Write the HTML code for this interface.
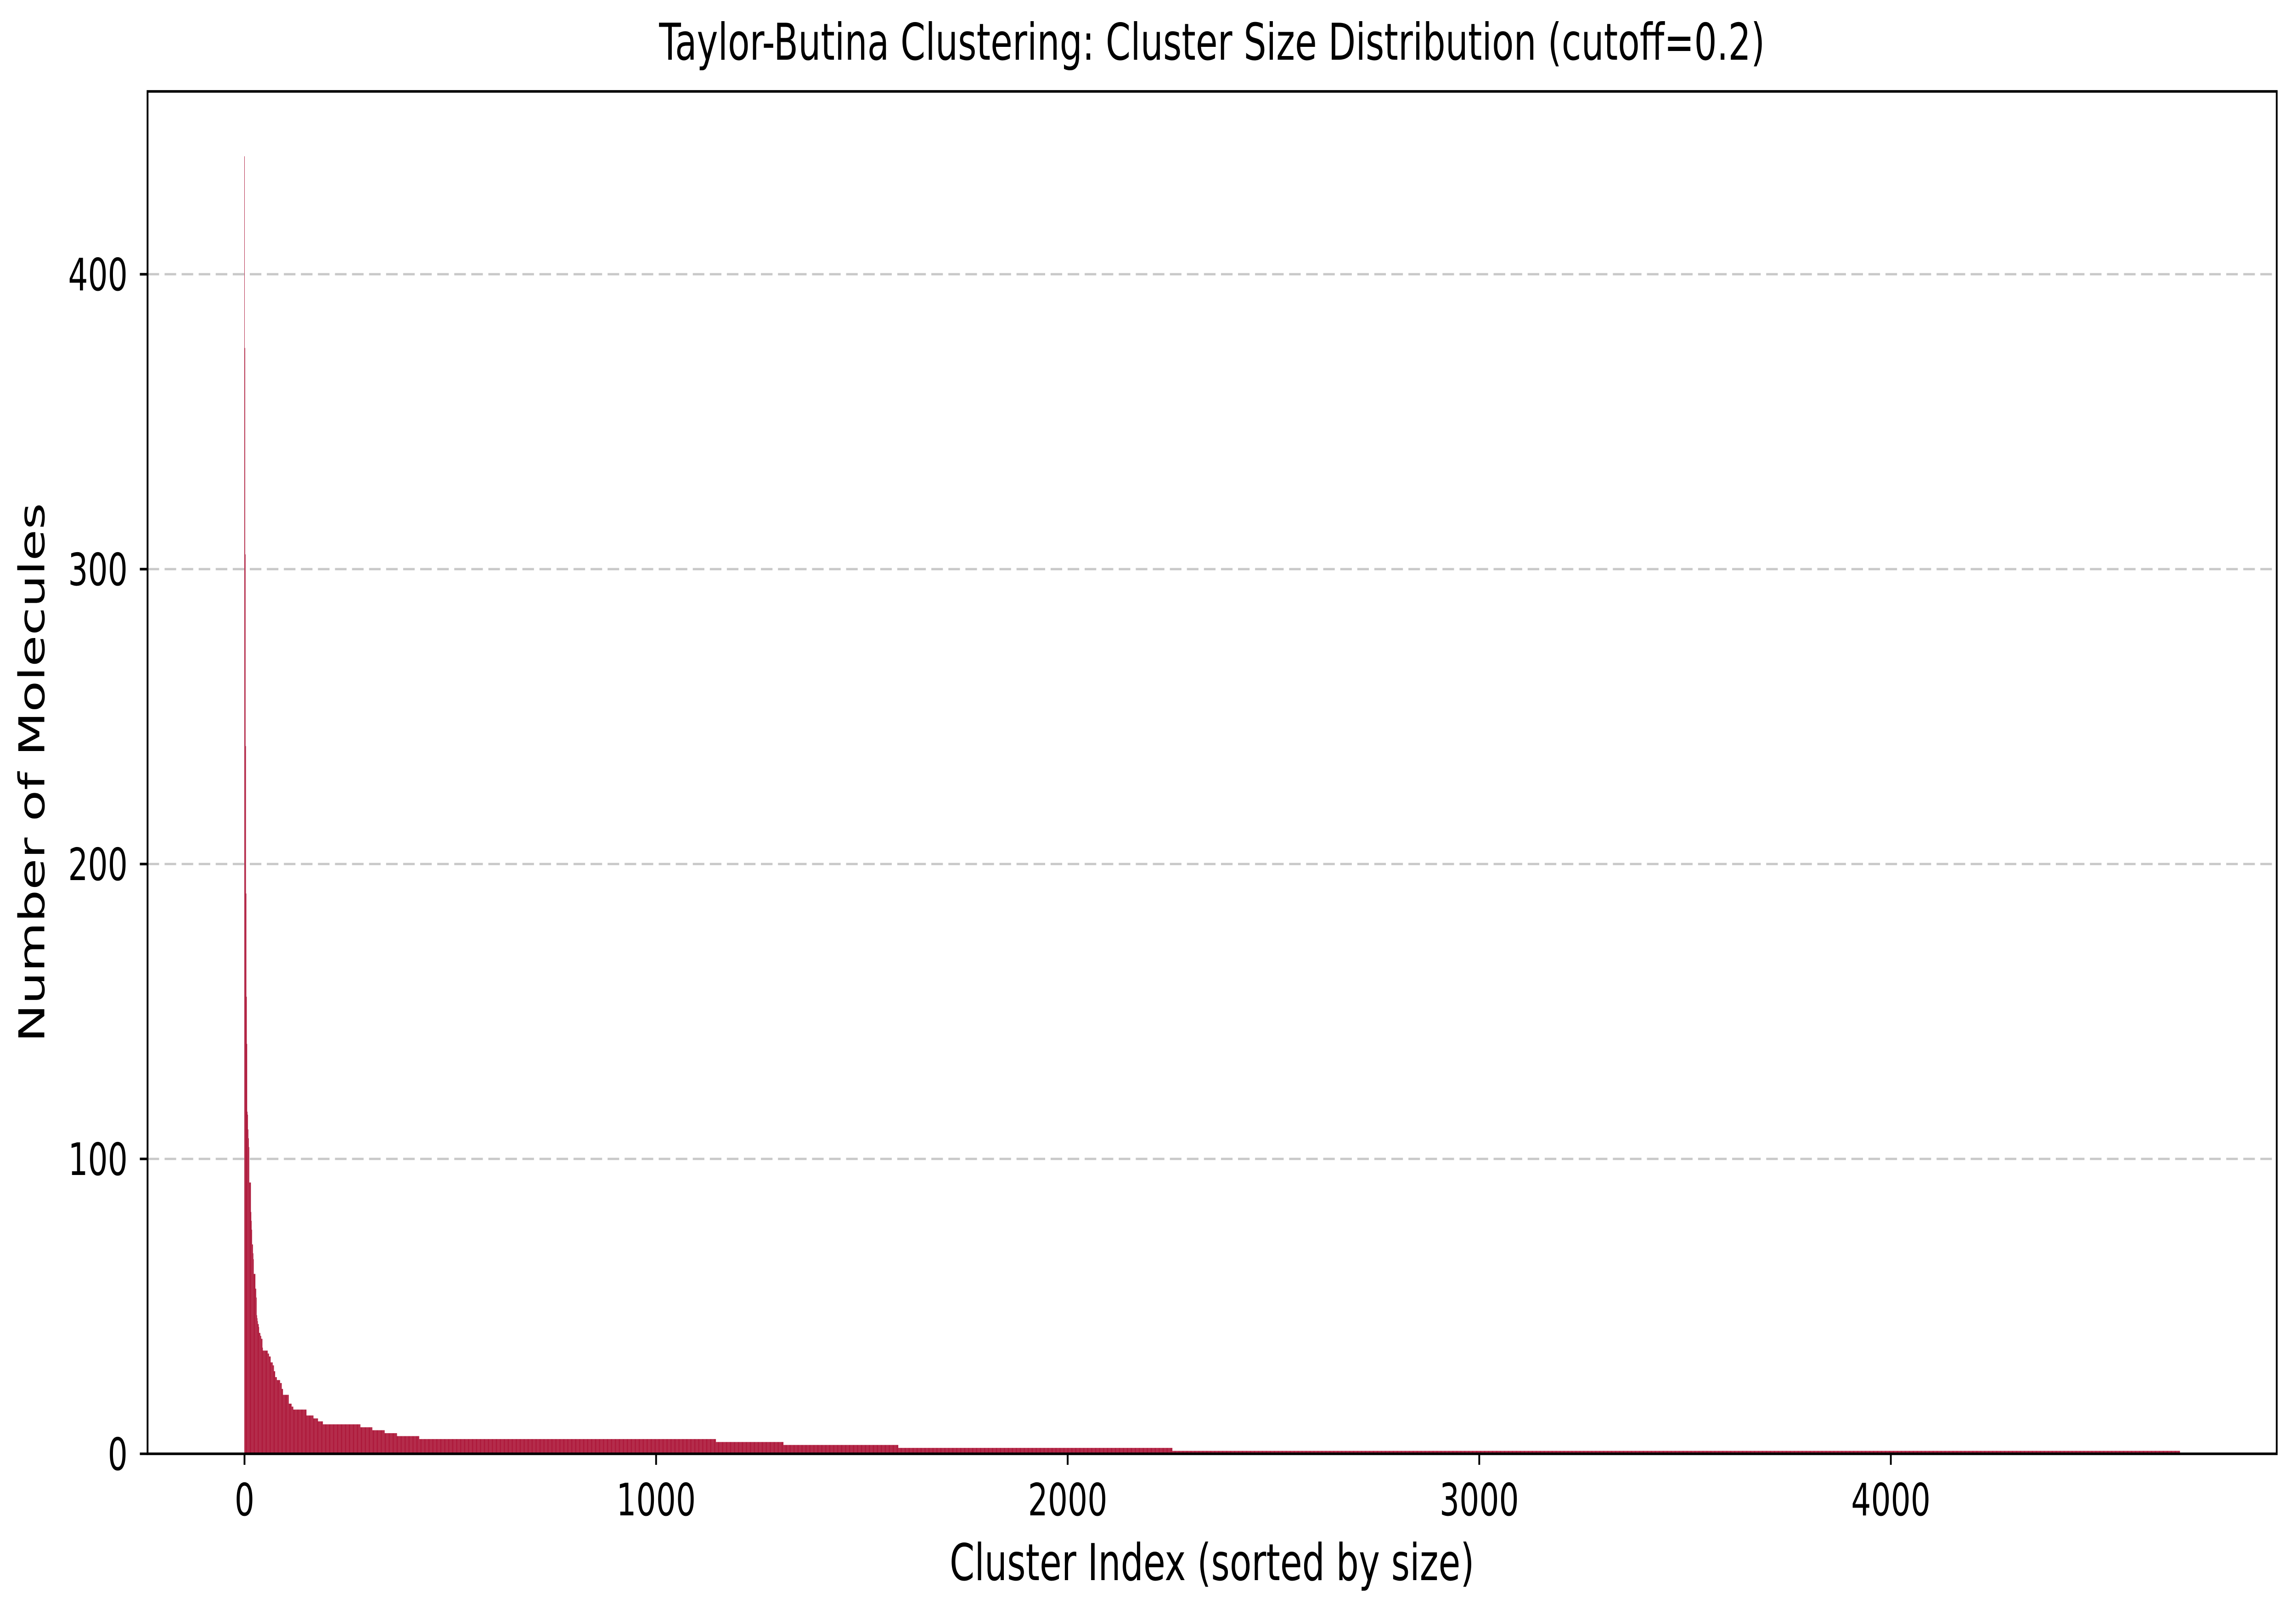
<!DOCTYPE html>
<html><head><meta charset="utf-8">
<style>
html,body{margin:0;padding:0;background:#fff;width:100%;height:100%;overflow:hidden;}
svg{display:block;width:100vw;height:100vh;}
text{font-family:"DejaVu Sans","Liberation Sans",sans-serif;fill:#000;}
</style></head>
<body>
<svg id="chart" xmlns="http://www.w3.org/2000/svg" viewBox="0 0 7142 3529" preserveAspectRatio="none">
<rect x="0" y="0" width="7142" height="3529" fill="#fff"/>
<g id="bars"></g>
<g id="grid"></g>
<rect x="459" y="199" width="6623" height="2966" fill="none" stroke="#000" stroke-width="5.6"/>
<g id="xticks"></g>
<g id="yticks"></g>
<text x="3770" y="130" font-size="111" text-anchor="middle">Taylor-Butina Clustering: Cluster Size Distribution (cutoff=0.2)</text>
<text x="3770" y="3440" font-size="111" text-anchor="middle">Cluster Index (sorted by size)</text>
<text x="0" y="0" font-size="111" text-anchor="middle" transform="translate(138,1682) rotate(-90)">Number of Molecules</text>
</svg>
<script>
// Run-length data: cluster sizes (sorted) and how many clusters have each size
const runValues = [440,375,305,240,190,155,139,116,115,110,107,104,92,82,79,76,71,68,66,61,56,53,47,46,45,44,43,41,40,39,36,35,34,33,31,30,28,26,25,24,22,20,17,16,15,13,12,11,10,9,8,7,6,5,4,3,2,1];
const runCounts = [1,1,1,1,1,1,1,1,1,1,1,1,4,1,1,1,2,1,1,4,2,1,1,1,1,2,1,3,2,3,1,12,3,4,5,3,3,4,8,4,3,14,7,4,32,17,11,12,91,29,30,30,54,721,164,279,666,2448];
const xTicks = [0,1000,2000,3000,4000];
const yTicks = [0,100,200,300,400];

const NS = "http://www.w3.org/2000/svg";
const L = 459, R = 7082, T = 199, B = 3165;
const sizes = [];
runValues.forEach((v, i) => { for (let k = 0; k < runCounts[i]; k++) sizes.push(v); });
const n = sizes.length;
const xMin = -0.4 - 0.05 * n, xMax = n - 0.6 + 0.05 * n;
const yMax = 462;
const xs = v => L + (v - xMin) / (xMax - xMin) * (R - L);
const ys = v => B - v / yMax * (B - T);

const barsG = document.getElementById('bars');
sizes.forEach((v, i) => {
  const r = document.createElementNS(NS, 'rect');
  const x0 = xs(i - 0.45), x1 = xs(i + 0.45);
  r.setAttribute('x', x0.toFixed(2));
  r.setAttribute('y', ys(v).toFixed(2));
  r.setAttribute('width', (x1 - x0).toFixed(2));
  r.setAttribute('height', (B - ys(v)).toFixed(2));
  r.setAttribute('fill', '#a50026');
  
  
  barsG.appendChild(r);
});

const gridG = document.getElementById('grid');
const ytG = document.getElementById('yticks');
yTicks.forEach(t => {
  const y = ys(t);
  if (t > 0) {
    const g = document.createElementNS(NS, 'line');
    g.setAttribute('x1', L); g.setAttribute('x2', R);
    g.setAttribute('y1', y); g.setAttribute('y2', y);
    g.setAttribute('stroke', '#c8c8c8'); g.setAttribute('stroke-width', '5');
    g.setAttribute('stroke-dasharray', '36 17');
    
    
    gridG.appendChild(g);
  }
  const tk = document.createElementNS(NS, 'line');
  tk.setAttribute('x1', L - 24); tk.setAttribute('x2', L);
  tk.setAttribute('y1', y); tk.setAttribute('y2', y);
  tk.setAttribute('stroke', '#000'); tk.setAttribute('stroke-width', '5.6');
  
  
  ytG.appendChild(tk);
  const tx = document.createElementNS(NS, 'text');
  tx.setAttribute('x', L - 62); tx.setAttribute('y', y + 35);
  tx.setAttribute('font-size', '97'); tx.setAttribute('text-anchor', 'end');
  tx.textContent = t;
  
  
  ytG.appendChild(tx);
});

const xtG = document.getElementById('xticks');
xTicks.forEach(t => {
  const x = xs(t);
  const tk = document.createElementNS(NS, 'line');
  tk.setAttribute('x1', x); tk.setAttribute('x2', x);
  tk.setAttribute('y1', B); tk.setAttribute('y2', B + 24);
  tk.setAttribute('stroke', '#000'); tk.setAttribute('stroke-width', '5.6');
  
  
  xtG.appendChild(tk);
  const tx = document.createElementNS(NS, 'text');
  tx.setAttribute('x', x); tx.setAttribute('y', 3299);
  tx.setAttribute('font-size', '97'); tx.setAttribute('text-anchor', 'middle');
  tx.textContent = t;
  
  
  xtG.appendChild(tx);
});
</script>
</body></html>
